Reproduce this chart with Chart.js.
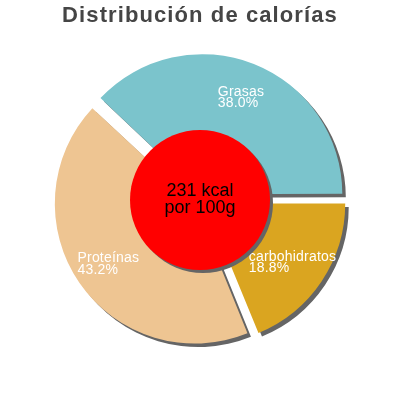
<!DOCTYPE html>
<html>
<head>
<meta charset="utf-8">
<script src="https://cdn.jsdelivr.net/npm/chart.js@4"></script>
<style>
  html, body { margin: 0; padding: 0; background: #fff; }
  #wrap { width: 400px; height: 400px; }
</style>
</head>
<body>
<div id="wrap"><canvas id="calChart" width="400" height="400"></canvas></div>
<script>
// Datos (orden horario empezando a las 3 en punto)
const categorias = ['carbohidratos', 'Proteínas', 'Grasas'];
const porcentajes = [18.8, 43.2, 38.0];
const colores = ['#daa520', '#eec592', '#7bc4cc'];
const lineasCentro = ['231 kcal', 'por 100g'];
const titulo = 'Distribución de calorías';

const RADIO = 140;        // radio de la tarta
const SEPARACION = 6.3;   // desplazamiento de cada porción (px)
const SOMBRA = '#656565';

// corrige el radio que Chart.js añade al desplazar porciones
const ajusteRadio = {
    id: 'ajusteRadio',
    beforeDatasetsDraw(chart) {
        chart.getDatasetMeta(0).data.forEach(function (arc) {
            const disp = (arc.options.offset || 0) / 4;
            const fix = 1 - Math.sin(Math.min(Math.PI, arc.circumference));
            arc.outerRadius = RADIO - disp * fix;
        });
    }
};

// sombra gris sin difuminar
const sombra = {
    id: 'sombra',
    beforeDatasetsDraw(chart) {
        const ctx = chart.ctx;
        ctx.save();
        ctx.letterSpacing = '0px';
        ctx.shadowColor = SOMBRA;
        ctx.shadowOffsetX = 3.5;
        ctx.shadowOffsetY = 3.5;
        ctx.shadowBlur = 0;
    },
    afterDatasetsDraw(chart) {
        chart.ctx.restore();
    }
};

// etiquetas, círculo rojo y texto central
const decoracion = {
    id: 'decoracion',
    beforeDraw(chart) { chart.ctx.letterSpacing = '1.1px'; },
    afterDraw(chart) {
        const ctx = chart.ctx;
        ctx.save();
        ctx.letterSpacing = '0.2px';
        const meta = chart.getDatasetMeta(0);
        const cx = meta.data[0].x, cy = meta.data[0].y;

        // etiquetas de las porciones
        ctx.font = '14px "Liberation Sans", Arial, sans-serif';
        ctx.fillStyle = '#ffffff';
        ctx.textAlign = 'left';
        ctx.textBaseline = 'alphabetic';
        meta.data.forEach(function (arc, i) {
            const mid = (arc.startAngle + arc.endAngle) / 2;
            const r = RADIO * 0.75 + SEPARACION;
            const lx = cx + Math.cos(mid) * r;
            const ly = cy + Math.sin(mid) * r;
            const l1 = categorias[i];
            const l2 = porcentajes[i].toFixed(1) + '%';
            const w = Math.max(ctx.measureText(l1).width, ctx.measureText(l2).width);
            ctx.fillText(l1, lx - w / 2, ly - 1);
            ctx.fillText(l2, lx - w / 2, ly + 10.5);
        });

        // círculo central con sombra
        ctx.save();
        ctx.shadowColor = SOMBRA;
        ctx.shadowOffsetX = 3;
        ctx.shadowOffsetY = 3;
        ctx.beginPath();
        ctx.arc(cx, cy, RADIO / 2, 0, Math.PI * 2);
        ctx.fillStyle = '#ff0000';
        ctx.fill();
        ctx.restore();

        ctx.letterSpacing = '0px';
        ctx.font = '18px "Liberation Sans", Arial, sans-serif';
        ctx.fillStyle = '#000000';
        ctx.textAlign = 'center';
        ctx.fillText(lineasCentro[0], cx, cy - 4);
        ctx.fillText(lineasCentro[1], cx, cy + 13);
        ctx.restore();
    }
};

document.addEventListener('DOMContentLoaded', function () {
    const ctx = document.getElementById('calChart').getContext('2d');
    new Chart(ctx, {
        type: 'pie',
        data: {
            labels: categorias,
            datasets: [{
                data: porcentajes,
                backgroundColor: colores,
                borderWidth: 0,
                offset: SEPARACION * 4
            }]
        },
        options: {
            responsive: false,
            animation: false,
            events: [],
            rotation: 90,
            radius: RADIO,
            layout: { padding: { top: 0, bottom: 29.4, left: 0, right: 0 } },
            plugins: {
                legend: { display: false },
                tooltip: { enabled: false },
                title: {
                    display: true,
                    text: titulo,
                    color: '#454545',
                    font: { family: '"Liberation Sans", Arial, sans-serif', size: 22, weight: 'bold', lineHeight: 1.2 },
                    padding: { top: 3, bottom: 0 }
                }
            }
        },
        plugins: [decoracion, ajusteRadio, sombra]
    });
});
</script>
</body>
</html>
